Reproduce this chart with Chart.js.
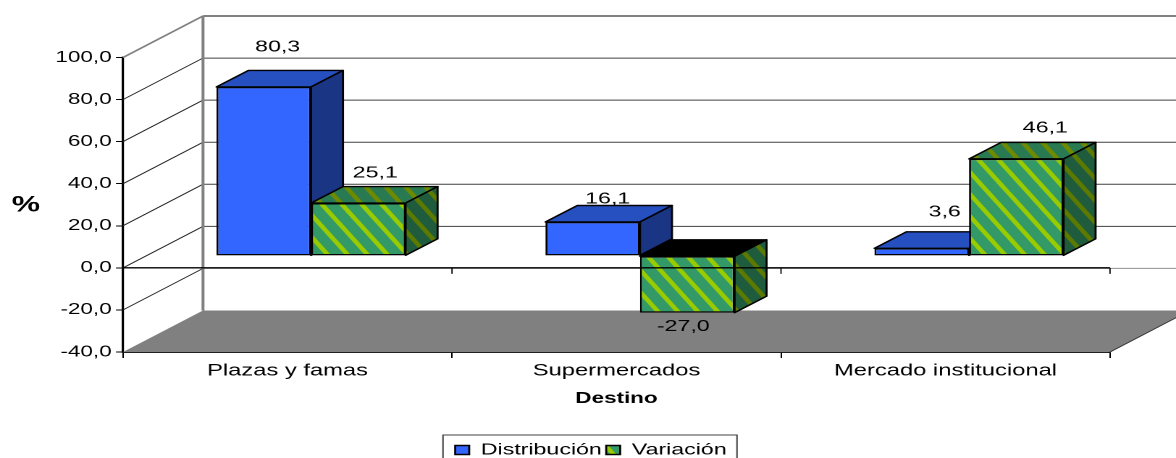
<!DOCTYPE html>
<html>
<head>
<meta charset="utf-8">
<script src="https://cdn.jsdelivr.net/npm/chart.js@4/dist/chart.umd.min.js"></script>
<style>
    html, body { margin: 0; background: #fff; overflow: hidden; }
    #chart { position: absolute; left: 0; top: 0; transform-origin: 0 0; }
</style>
</head>
<body>
<canvas id="chart" width="812" height="458"></canvas>
<script>
const categories = ['Plazas y famas', 'Supermercados', 'Mercado institucional'];
const distribucion = [80.3, 16.1, 3.6];
const variacion = [25.1, -27.0, 46.1];
const seriesNames = ['Distribución', 'Variación'];
const yTicks = [-40, -20, 0, 20, 40, 60, 80, 100];

// the reference text and marks are stretched sideways, so the canvas is laid
// out narrow and widened with css. px() turns a page x into a canvas x
const STRETCH = 1176 / 812;
const px = v => v / STRETCH;

const FONT = '"Liberation Sans", Arial, sans-serif';
const WALL_DX = px(80), WALL_DY = 41.5;     // front plane -> back wall
const BAR_DX = px(23.5), BAR_DY = 12;       // front plane -> bar front faces
const DEPTH_DX = px(32), DEPTH_DY = 16.5;   // bar front -> bar back
const LEGEND_SHIFT = 24.8;                  // legend centres on the page, not the plot

// where each value label sits, from the middle of the bar end (page px)
const labelShifts = [
    [[14, -40], [15, -23], [23, -36]],
    [[17, -30], [-4, 14], [29, -31]]
];

function stripes(base, lime) {
    const scale = 4, w = px(20), h = 22;
    const tile = document.createElement('canvas');
    tile.width = Math.round(w * scale);
    tile.height = h * scale;
    const c = tile.getContext('2d');
    const tw = tile.width, th = tile.height, band = tw * 0.3;
    c.fillStyle = base;
    c.fillRect(0, 0, tw, th);
    c.fillStyle = lime;
    [-tw, 0].forEach(x0 => {
        c.beginPath();
        c.moveTo(x0, 0);
        c.lineTo(x0 + band, 0);
        c.lineTo(x0 + band + tw, th);
        c.lineTo(x0 + tw, th);
        c.closePath();
        c.fill();
    });
    const pattern = c.createPattern(tile, 'repeat');
    pattern.setTransform(new DOMMatrix().scale(1 / scale));
    return pattern;
}

const greenFront = stripes('#339966', '#99cc00');
const faceColors = [
    { side: '#1b3585', top: '#2650bf' },
    { side: stripes('#1f5c3d', '#5c7a00'), top: stripes('#297a52', '#6e8a00') }
];

function line(ctx, x1, y1, x2, y2, color, width) {
    ctx.strokeStyle = color;
    ctx.lineWidth = width;
    ctx.beginPath();
    ctx.moveTo(x1, y1);
    ctx.lineTo(x2, y2);
    ctx.stroke();
}

function face(ctx, points, fill) {
    ctx.fillStyle = fill;
    ctx.strokeStyle = '#000';
    ctx.lineWidth = 1.4;
    ctx.lineJoin = 'round';
    ctx.beginPath();
    points.forEach((p, i) => i ? ctx.lineTo(p[0], p[1]) : ctx.moveTo(p[0], p[1]));
    ctx.closePath();
    ctx.fill();
    ctx.stroke();
}

const box3d = {
    id: 'box3d',

    afterLayout(chart) {
        chart.legend.left += LEGEND_SHIFT;
        chart.legend.right += LEGEND_SHIFT;
    },

    // walls, floor, value labels and the bar tops and sides go under the fronts
    beforeDatasetsDraw(chart) {
        const { ctx, chartArea: area, scales: { y } } = chart;
        const bx = area.left + WALL_DX;
        const floorY = y.getPixelForValue(yTicks[0]);
        const topY = y.getPixelForValue(yTicks[yTicks.length - 1]);

        ctx.save();
        ctx.fillStyle = '#808080';
        ctx.beginPath();
        ctx.moveTo(area.left, floorY);
        ctx.lineTo(bx, floorY - WALL_DY);
        ctx.lineTo(area.right + WALL_DX, floorY - WALL_DY);
        ctx.lineTo(area.right, floorY);
        ctx.closePath();
        ctx.fill();
        line(ctx, area.right, floorY, area.right + WALL_DX, floorY - WALL_DY, '#303030', 0.8);

        yTicks.slice(1, -1).forEach(t => {
            const py = y.getPixelForValue(t);
            line(ctx, area.left, py, bx, py - WALL_DY, '#202020', 0.9);
            line(ctx, bx, py - WALL_DY, area.right + WALL_DX, py - WALL_DY, t === -20 ? '#909090' : '#404040', 1);
        });
        line(ctx, area.left, topY, bx, topY - WALL_DY, '#808080', 1.5);
        line(ctx, bx, topY - WALL_DY, bx, floorY - WALL_DY, '#808080', 2);
        line(ctx, bx, topY - WALL_DY, area.right + WALL_DX, topY - WALL_DY, '#808080', 2);

        // labels
        ctx.fillStyle = '#000';
        ctx.font = '16px ' + FONT;
        ctx.textAlign = 'center';
        ctx.textBaseline = 'middle';
        chart.data.datasets.forEach((ds, i) => {
            chart.getDatasetMeta(i).data.forEach((bar, j) => {
                const shift = labelShifts[i][j];
                const text = ds.data[j].toFixed(1).replace('.', ',');
                ctx.fillText(text, bar.x + BAR_DX + px(shift[0]), bar.y - BAR_DY + shift[1]);
            });
        });
        ctx.restore();

        // bars sit part way into the floor depth
        ctx.save();
        ctx.translate(BAR_DX, -BAR_DY);
        faceColors.forEach((colors, i) => {
            chart.getDatasetMeta(i).data.forEach(bar => {
                const l = bar.x - bar.width / 2, r = bar.x + bar.width / 2;
                const top = Math.min(bar.y, bar.base), bot = Math.max(bar.y, bar.base);
                const topFill = bar.y > bar.base ? '#000' : colors.top;
                face(ctx, [[l, top], [l + DEPTH_DX, top - DEPTH_DY], [r + DEPTH_DX, top - DEPTH_DY], [r, top]], topFill);
                face(ctx, [[r, top], [r + DEPTH_DX, top - DEPTH_DY], [r + DEPTH_DX, bot - DEPTH_DY], [r, bot]], colors.side);
            });
        });
    },

    afterDatasetsDraw(chart) {
        const { ctx, chartArea: area, scales: { x, y } } = chart;
        ctx.restore();

        // zero line runs over the bars, with its own category ticks
        const zero = y.getPixelForValue(0);
        line(ctx, area.left, zero, area.right, zero, '#000', 1.4);
        const half = area.width / categories.length / 2;
        categories.forEach((c, i) => {
            const tx = x.getPixelForValue(i) + half;
            line(ctx, tx, zero, tx, zero + 6, '#000', 0.9);
        });
    },

    afterDraw(chart) {
        const { ctx } = chart;
        ctx.save();
        ctx.fillStyle = '#000';
        ctx.font = 'bold 22px ' + FONT;
        ctx.textAlign = 'center';
        ctx.textBaseline = 'middle';
        ctx.fillText('%', px(26), 205.5);

        ctx.strokeStyle = '#404040';
        ctx.lineWidth = 1;
        ctx.strokeRect(px(443), 435, px(294), 40);
        ctx.restore();
    }
};

new Chart(document.getElementById('chart'), {
    type: 'bar',
    plugins: [box3d],
    data: {
        labels: categories,
        datasets: [
            { label: seriesNames[0], data: distribucion, clip: false, borderSkipped: false,
              backgroundColor: '#3366ff', borderColor: '#000', borderWidth: 1.4 },
            { label: seriesNames[1], data: variacion, clip: false, borderSkipped: false,
              backgroundColor: greenFront, borderColor: '#000', borderWidth: 1.4 }
        ]
    },
    options: {
        responsive: false,
        devicePixelRatio: 2,
        animation: false,
        layout: { padding: { top: 57.5, right: 812 - px(1110), left: 0, bottom: -10 } },
        datasets: { bar: { categoryPercentage: 0.575, barPercentage: 1 } },
        plugins: {
            tooltip: { enabled: false },
            legend: {
                position: 'bottom',
                labels: {
                    color: '#000',
                    font: { family: FONT, size: 16 },
                    boxWidth: px(14),
                    boxHeight: 9,
                    padding: 3
                }
            }
        },
        scales: {
            x: {
                afterFit: s => { s.height = 87; },
                grid: { drawOnChartArea: false, tickLength: 6, color: '#000' },
                border: { color: '#000', width: 1.4 },
                ticks: { color: '#000', font: { family: FONT, size: 16.4 }, padding: 3, maxRotation: 0 },
                title: {
                    display: true,
                    text: 'Destino',
                    color: '#000',
                    font: { family: FONT, size: 15.5, weight: 'bold' },
                    padding: { top: 0, bottom: 31 }
                }
            },
            y: {
                min: yTicks[0],
                max: yTicks[yTicks.length - 1],
                afterFit: s => { s.width = px(123); },
                grid: { drawOnChartArea: false, tickLength: px(7), color: '#000' },
                border: { color: '#000', width: 1.6 },
                ticks: {
                    stepSize: 20,
                    color: '#000',
                    font: { family: FONT, size: 15.5 },
                    padding: 3,
                    callback: v => v.toFixed(1).replace('.', ',')
                }
            }
        }
    }
});
document.getElementById('chart').style.transform = 'scaleX(' + STRETCH + ')';
</script>
</body>
</html>
